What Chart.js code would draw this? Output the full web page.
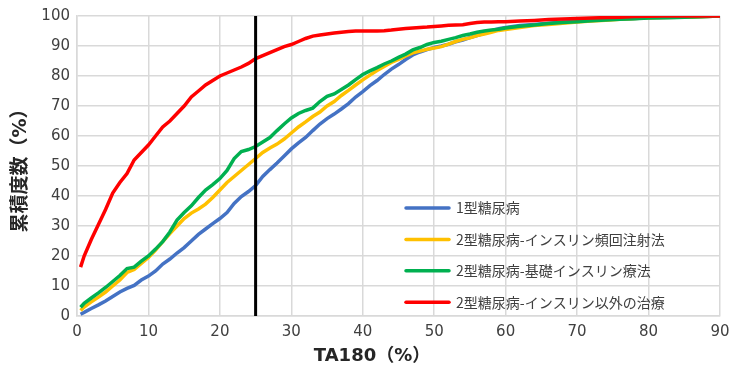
<!DOCTYPE html>
<html lang="ja">
<head>
<meta charset="utf-8">
<script src="https://cdn.jsdelivr.net/npm/chart.js@4.4.1/dist/chart.umd.min.js"></script>
<style>
  html, body { margin: 0; padding: 0; background: #fff; }
  #wrap { width: 737px; height: 375px; }
</style>
</head>
<body>
<div id="wrap"><canvas id="chart" width="737" height="375"></canvas></div>
<script>
// TA180 (%) - valori sull'asse x
const taValues = [0.5, 1, 2, 3, 4, 5, 6, 7, 8, 9, 10, 11, 12, 13, 14, 15, 16, 17, 18, 19, 20,
  21, 22, 23, 24, 25, 26, 27, 28, 29, 30, 31, 32, 33, 34, 35, 36, 37, 38, 39, 40,
  41, 42, 43, 44, 45, 46, 47, 48, 49, 50, 51, 52, 53, 54, 55, 56, 57, 58, 59, 60,
  62, 64, 66, 68, 70, 72, 74, 76, 78, 80, 82, 84, 86, 88, 90];

// 累積度数 (%) per serie
const type1 = [0.6, 1.2, 2.5, 3.7, 5, 6.5, 8, 9.2, 10.2, 12, 13.3, 15, 17.3, 19, 21, 22.8, 25, 27.2, 29, 30.8, 32.5,
  34.5, 37.5, 39.8, 41.5, 43.5, 46.5, 48.8, 51, 53.3, 55.7, 57.7, 59.5, 61.8, 64, 65.8, 67.3, 69, 70.8, 73, 74.8,
  76.8, 78.5, 80.5, 82.3, 83.8, 85.5, 87, 88, 88.8, 89.5, 90, 90.6, 91.4, 92, 92.8, 93.5, 94.2, 95, 95.8, 96.2,
  96.8, 97.2, 97.6, 98, 98.2, 98.5, 98.8, 99, 99.2, 99.4, 99.5, 99.6, 99.7, 99.8, 100];

const type2Bolus = [1.8, 3, 4.7, 6.3, 8, 10, 12, 14.5, 15.5, 17.5, 19.5, 22, 24.8, 27.5, 30, 32.5, 34.3, 35.7, 37.3, 39.5, 42,
  44.5, 46.5, 48.5, 50.5, 52.5, 54.5, 56, 57.3, 59, 61, 63, 64.7, 66.5, 68, 70, 71.5, 73.5, 75.2, 77, 78.7,
  80.3, 81.8, 83.2, 84.5, 85.5, 86.7, 87.7, 88.3, 88.9, 89.3, 89.8, 90.6, 91.5, 92.2, 92.7, 93.5, 94, 94.6, 95.2, 95.5,
  96.2, 96.8, 97.2, 97.6, 98, 98.3, 98.6, 98.9, 99.2, 99.4, 99.5, 99.6, 99.7, 99.8, 100];

const type2Basal = [2.9, 4.2, 6, 7.7, 9.5, 11.5, 13.5, 15.8, 16.3, 18.3, 20, 22.3, 24.8, 28, 32, 34.5, 36.7, 39.5, 42, 43.8, 45.8,
  48.5, 52.5, 54.8, 55.5, 56.5, 58, 59.5, 61.8, 64, 66, 67.5, 68.5, 69.3, 71.5, 73.2, 74, 75.5, 77, 78.8, 80.5,
  81.7, 82.8, 84, 85, 86.2, 87.3, 88.7, 89.5, 90.5, 91.2, 91.6, 92.2, 92.8, 93.5, 94, 94.6, 95, 95.3, 95.6, 96,
  96.6, 97, 97.5, 97.8, 98.1, 98.4, 98.7, 98.9, 99.1, 99.3, 99.4, 99.5, 99.7, 99.8, 100];

const type2NonInsulin = [16.3, 20, 25.5, 30.5, 35.5, 41, 44.5, 47.5, 52, 54.5, 57, 60, 63, 65, 67.5, 70, 73, 75, 77, 78.5, 80,
  81, 82, 83, 84.2, 85.8, 86.8, 87.8, 88.8, 89.8, 90.5, 91.5, 92.5, 93.3, 93.7, 94, 94.3, 94.6, 94.8, 95, 95,
  95, 95, 95.1, 95.3, 95.6, 95.8, 96, 96.2, 96.3, 96.5, 96.7, 96.9, 97, 97.1, 97.5, 97.8, 98, 98, 98.1, 98.1,
  98.3, 98.5, 98.8, 99, 99.2, 99.3, 99.5, 99.6, 99.8, 99.9, 100, 100, 100, 100, 100];

const seriesLabels = ['1型糖尿病', '2型糖尿病-インスリン頻回注射法', '2型糖尿病-基礎インスリン療法', '2型糖尿病-インスリン以外の治療'];
const seriesColors = ['#4472C4', '#FFC000', '#00B050', '#FF0000'];
const cutoffValue = 25;
const xTicks = [0, 10, 20, 30, 40, 50, 60, 70, 80, 90];

const FONT = '"DejaVu Sans", "Noto Sans CJK JP", sans-serif';
const LEGEND_FONT = '"Noto Sans CJK JP", "DejaVu Sans", sans-serif';

// Costruisce i punti {x,y}
function toPoints(values) {
  return taValues.map((x, i) => ({ x: x, y: values[i] }));
}

const allSeries = [type1, type2Bolus, type2Basal, type2NonInsulin];

const datasets = allSeries.map((values, i) => ({
  label: seriesLabels[i],
  data: toPoints(values),
  borderColor: seriesColors[i],
  backgroundColor: seriesColors[i],
  borderWidth: 3.5,
  pointRadius: 0,
  tension: 0,
  order: 4 - i
}));

// linea verticale a TA180 = 25
datasets.push({
  label: 'cutoff',
  data: [{ x: cutoffValue, y: 0 }, { x: cutoffValue, y: 100 }],
  borderColor: '#000000',
  borderWidth: 3,
  pointRadius: 0,
  order: 0
});

// Legenda dentro l'area del grafico + titolo asse x
const legendInside = {
  id: 'legendInside',
  afterDraw(chart) {
    const ctx = chart.ctx;
    const area = chart.chartArea;
    const x0 = area.left + 329;
    const y0 = area.top + 192;
    const rowH = 31.4;
    ctx.save();
    seriesLabels.forEach((label, i) => {
      const y = y0 + i * rowH;
      ctx.strokeStyle = seriesColors[i];
      ctx.lineWidth = 3.5;
      ctx.lineCap = 'round';
      ctx.beginPath();
      ctx.moveTo(x0, y);
      ctx.lineTo(x0 + 43, y);
      ctx.stroke();
      ctx.fillStyle = '#404040';
      ctx.font = '14px ' + LEGEND_FONT;
      ctx.textBaseline = 'middle';
      ctx.textAlign = 'left';
      ctx.fillText(label, x0 + 50, y);
    });
    // titolo asse x
    ctx.fillStyle = '#262626';
    ctx.font = 'bold 18px ' + FONT;
    ctx.textAlign = 'center';
    ctx.textBaseline = 'middle';
    ctx.fillText('TA180（%）', 372, 356);
    ctx.restore();
  }
};

const chart = new Chart(document.getElementById('chart'), {
  type: 'line',
  data: { datasets: datasets },
  plugins: [legendInside],
  options: {
    responsive: false,
    animation: false,
    layout: { padding: { top: 15, right: 17, left: 0, bottom: 0 } },
    plugins: {
      legend: { display: false },
      tooltip: { enabled: false }
    },
    scales: {
      x: {
        type: 'linear',
        min: 0,
        max: 90,
        afterBuildTicks(scale) {
          scale.ticks = xTicks.map(v => ({ value: v }));
        },
        afterFit(scale) { scale.height = 59; },
        grid: { color: '#d9d9d9', lineWidth: 1.5, drawTicks: false },
        border: { color: '#d9d9d9', width: 1.5 },
        ticks: { color: '#404040', font: { family: FONT, size: 15 }, padding: 7, maxRotation: 0 }
      },
      y: {
        min: 0,
        max: 100,
        afterFit(scale) { scale.width = 77; },
        grid: { color: '#d9d9d9', lineWidth: 1.5, drawTicks: false },
        border: { color: '#d9d9d9', width: 1.5 },
        ticks: { stepSize: 10, color: '#404040', font: { family: FONT, size: 15 }, padding: 7 },
        title: {
          display: true,
          text: '累積度数（%）',
          color: '#262626',
          font: { family: FONT, size: 19, weight: 'bold' },
          padding: { top: 10, bottom: 0 }
        }
      }
    }
  }
});
</script>
</body>
</html>
